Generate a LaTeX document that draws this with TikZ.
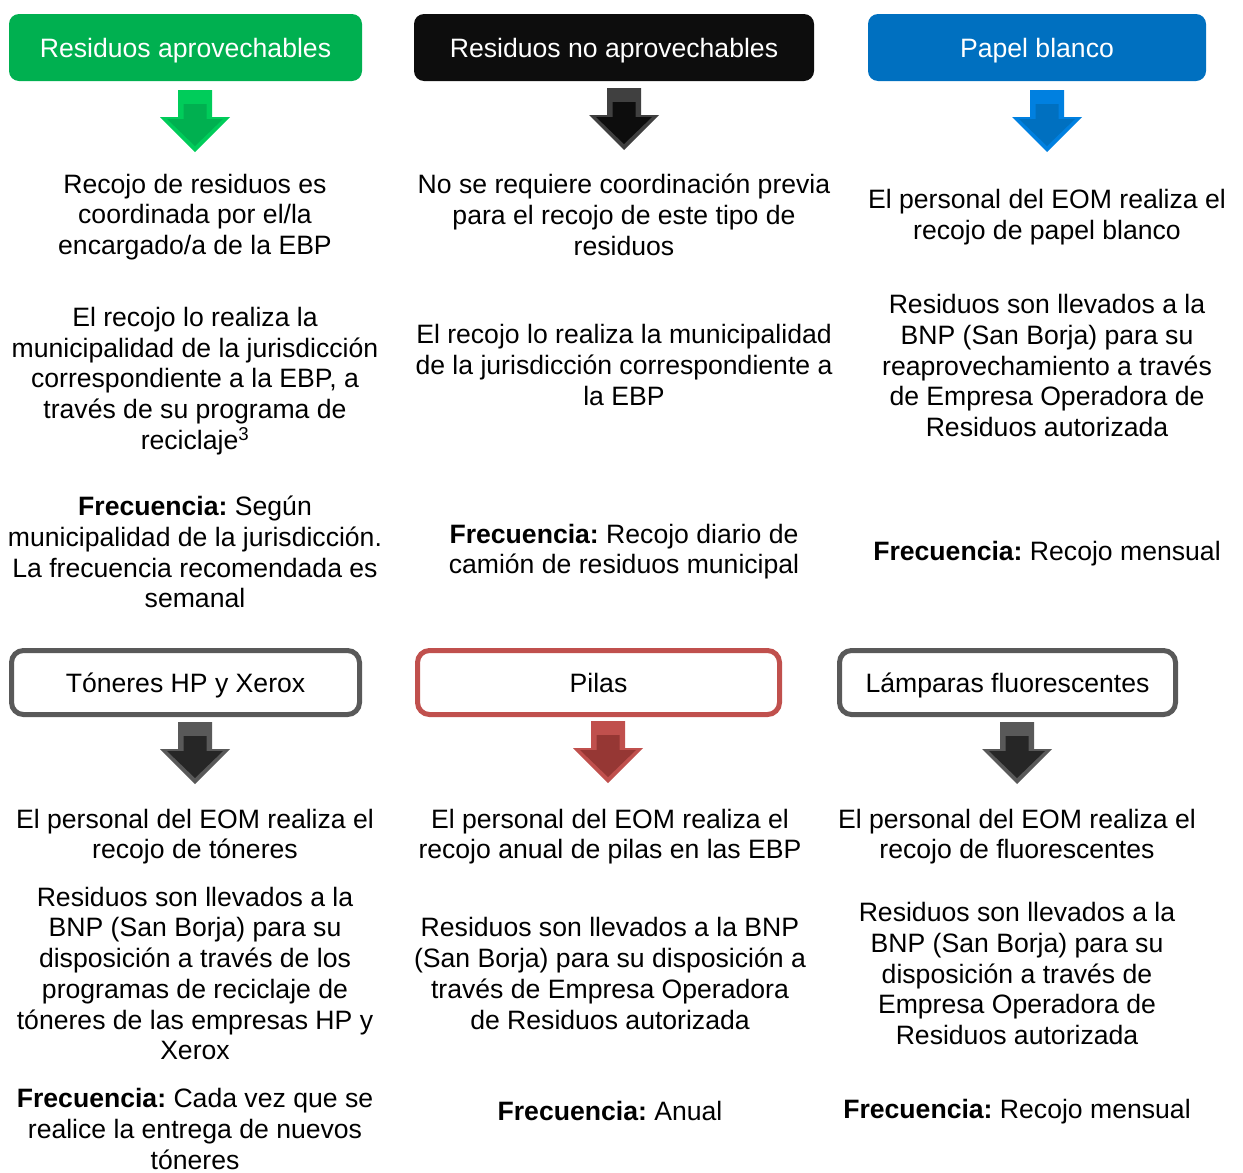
\documentclass[tikz,border=0pt]{standalone}
\usepackage{fontspec}
\setmainfont{Liberation Sans}
\usetikzlibrary{positioning}
\frenchspacing

\definecolor{recgreen}{RGB}{0,176,80}
\definecolor{recgreenlt}{RGB}{0,204,90}
\definecolor{nonblack}{RGB}{13,13,13}
\definecolor{nonblacklt}{RGB}{64,64,64}
\definecolor{paperblue}{RGB}{0,112,192}
\definecolor{paperbluelt}{RGB}{0,128,224}
\definecolor{batred}{RGB}{192,80,77}
\definecolor{batreddk}{RGB}{150,55,52}
\definecolor{boxgray}{RGB}{89,89,89}
\definecolor{boxgraydk}{RGB}{38,38,38}

% block arrow: centre x, top y, light colour, dark colour
\newcommand{\wastearrow}[4]{%
  \fill[#3] (#1-17,#2) -- (#1+17,#2) -- (#1+17,#2+27) -- (#1+35,#2+27)
    -- (#1,#2+62) -- (#1-35,#2+27) -- (#1-17,#2+27) -- cycle;
  \fill[#4] (#1-11.5,#2+14) -- (#1+11.5,#2+14) -- (#1+11.5,#2+29) -- (#1+28,#2+29)
    -- (#1,#2+56) -- (#1-28,#2+29) -- (#1-11.5,#2+29) -- cycle;
}

\tikzset{
  head/.style={rounded corners=10pt, minimum width=353pt, minimum height=67pt,
    inner sep=0pt, text=white, text height=24pt, text depth=5pt,
    font=\fontsize{26.6}{30.7}\selectfont},
  subhead/.style={draw, line width=5pt, rounded corners=12pt, fill=white,
    minimum height=64pt, inner sep=0pt, text height=24pt, text depth=5pt,
    font=\fontsize{26.6}{30.7}\selectfont},
  body/.style={align=center, inner sep=0pt, yshift=-2pt,
    font=\fontsize{26.6}{30.7}\selectfont}
}

\begin{document}
\begin{tikzpicture}[x=1pt, y=-1pt]
  \useasboundingbox (0,0) rectangle (1243,1173);

  % Headers, first row
  \node[head, fill=recgreen] (recup) at (185.5,47.5) {Residuos aprovechables};
  \node[head, fill=nonblack, minimum width=400pt] (nonrec) at (614,47.5) {Residuos no aprovechables};
  \node[head, fill=paperblue, minimum width=338pt] (paper) at (1037,47.5) {Papel blanco};

  % Arrows, first row
  \wastearrow{195}{90}{recgreenlt}{recgreen}
  \wastearrow{624}{88}{nonblacklt}{nonblack}
  \wastearrow{1047}{90}{paperbluelt}{paperblue}

  % Column 1
  \node[body] (recupA) at (195,215) {Recojo de residuos es\\coordinada por el/la\\encargado/a de la EBP};
  \node[body] (recupB) at (195,379) {El recojo lo realiza la\\municipalidad de la jurisdicción\\correspondiente a la EBP, a\\través de su programa de\\reciclaje\textsuperscript{3}};
  \node[body] (recupC) at (195,550) {\textbf{Frecuencia:} Según\\municipalidad de la jurisdicción.\\La frecuencia recomendada es\\semanal};

  % Column 2
  \node[body] (nonrecA) at (624,213) {No se requiere coordinación previa\\para el recojo de este tipo de\\residuos};
  \node[body] (nonrecB) at (624,363) {El recojo lo realiza la municipalidad\\de la jurisdicción correspondiente a\\la EBP};
  \node[body] (nonrecC) at (624,549.5) {\textbf{Frecuencia:} Recojo diario de\\camión de residuos municipal};

  % Column 3
  \node[body] (paperA) at (1047,215) {El personal del EOM realiza el\\recojo de papel blanco};
  \node[body] (paperB) at (1047,363.5) {Residuos son llevados a la\\BNP (San Borja) para su\\reaprovechamiento a través\\de Empresa Operadora de\\Residuos autorizada};
  \node[body] (paperC) at (1047,552) {\textbf{Frecuencia:} Recojo mensual};

  % Headers, second row
  \node[subhead, draw=boxgray, minimum width=348pt] (toner) at (185.5,682.5) {Tóneres HP y Xerox};
  \node[subhead, draw=batred, minimum width=362pt] (batt) at (598.5,682.5) {Pilas};
  \node[subhead, draw=boxgray, minimum width=336pt] (lamp) at (1007.5,682.5) {Lámparas fluorescentes};

  % Arrows, second row
  \wastearrow{195}{722}{boxgray}{boxgraydk}
  \wastearrow{608}{721}{batred}{batreddk}
  \wastearrow{1017}{722}{boxgray}{boxgraydk}

  % Column 1, second row
  \node[body] (tonerA) at (195,834.5) {El personal del EOM realiza el\\recojo de tóneres};
  \node[body] (tonerB) at (195,971.5) {Residuos son llevados a la\\BNP (San Borja) para su\\disposición a través de los\\programas de reciclaje de\\tóneres de las empresas HP y\\Xerox};
  \node[body] (tonerC) at (195,1127) {\textbf{Frecuencia:} Cada vez que se\\realice la entrega de nuevos\\tóneres};

  % Column 2, second row
  \node[body] (battA) at (610,834.5) {El personal del EOM realiza el\\recojo anual de pilas en las EBP};
  \node[body] (battB) at (610,971.5) {Residuos son llevados a la BNP\\(San Borja) para su disposición a\\través de Empresa Operadora\\de Residuos autorizada};
  \node[body] (battC) at (610,1109) {\textbf{Frecuencia:} Anual};

  % Column 3, second row
  \node[body] (lampA) at (1017,834.5) {El personal del EOM realiza el\\recojo de fluorescentes};
  \node[body] (lampB) at (1017,971.5) {Residuos son llevados a la\\BNP (San Borja) para su\\disposición a través de\\Empresa Operadora de\\Residuos autorizada};
  \node[body] (lampC) at (1017,1110) {\textbf{Frecuencia:} Recojo mensual};
\end{tikzpicture}
\end{document}
